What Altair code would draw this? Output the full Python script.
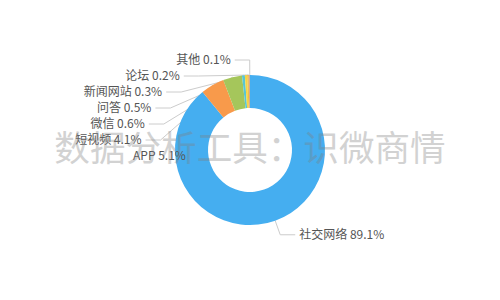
import math
import altair as alt
import pandas as pd

# ---- data ----
categories = ["社交网络", "APP", "短视频", "微信", "问答", "新闻网站", "论坛", "其他"]
percents = [89.1, 5.1, 4.1, 0.6, 0.5, 0.3, 0.2, 0.1]
colors = ["#45aef0", "#f89a4b", "#a5c65b", "#58c6d4", "#f6d444", "#f2c038", "#e88a50", "#9a9aa8"]
watermark = "数据分析工具：识微商情"

# ---- layout parameters ----
W, H = 500, 300
CX, CY = W / 2, H / 2
R_OUT, R_IN = 75, 42
LEN1, LEN2, GAP, LINE_H = 15, 15, 4, 16
FONT = "Noto Sans CJK SC"

total = sum(percents)
items = []
cum = 0.0
for i, (c, p) in enumerate(zip(categories, percents)):
    mid = (cum + p / 2) / total * 2 * math.pi
    cum += p
    sx, sy = math.sin(mid), -math.cos(mid)
    x1, y1 = CX + R_OUT * sx, CY + R_OUT * sy
    x2, y2 = CX + (R_OUT + LEN1) * sx, CY + (R_OUT + LEN1) * sy
    d = -1 if sx < 0 else 1
    items.append(dict(idx=i, cat=c, value=p, label=f"{c} {p}%", x1=x1, y1=y1,
                      x2=x2, y=y2, x3=x2 + d * LEN2, dir=d))

# label overlap avoidance (ECharts-like)
rA = R_OUT + LEN1
for d in (-1, 1):
    side = sorted([it for it in items if it["dir"] == d], key=lambda it: it["y"])
    if len(side) < 2:
        continue
    adjusted = False
    last = None
    for it in side:
        if last is not None and it["y"] < last + LINE_H:
            it["y"] = last + LINE_H
            adjusted = True
        last = it["y"]
    if not adjusted:
        continue
    for semi in ([it for it in side if it["y"] <= CY], [it for it in side if it["y"] > CY]):
        if not semi:
            continue
        ref = max(semi, key=lambda it: abs(it["y"] - CY))
        dy = abs(ref["y"] - CY)
        dx = ref["x2"] - CX
        rB = dy / math.sqrt(1 - dx * dx / (rA * rA)) if abs(dx) < rA else rA
        for it in semi:
            dyi = abs(it["y"] - CY)
            ddx = math.sqrt(max(0.0, 1 - dyi * dyi / (rB * rB))) * rA
            it["x2"] = CX + ddx * d
            it["x3"] = it["x2"] + d * LEN2

pie_df = pd.DataFrame({"idx": list(range(len(categories))), "cat": categories, "value": percents})

line_rows = []
for it in items:
    pts = [(it["x1"], it["y1"]), (it["x2"], it["y"]), (it["x3"], it["y"])]
    for k, (px, py) in enumerate(pts):
        line_rows.append(dict(cat=it["cat"], k=k, x=px, y=py))
line_df = pd.DataFrame(line_rows)

lab_df = pd.DataFrame([dict(label=it["label"], dir=it["dir"],
                            tx=it["x3"] + it["dir"] * GAP, ty=it["y"]) for it in items])
wm_df = pd.DataFrame({"t": [watermark]})

xs = alt.Scale(domain=[0, W], nice=False, zero=False)
ys = alt.Scale(domain=[0, H], reverse=True, nice=False, zero=False)

lines = alt.Chart(line_df).mark_line(color="#cccccc", strokeWidth=1).encode(
    x=alt.X("x:Q", scale=xs, axis=None),
    y=alt.Y("y:Q", scale=ys, axis=None),
    detail="cat:N",
    order="k:Q",
)

arcs = alt.Chart(pie_df).mark_arc(innerRadius=R_IN, outerRadius=R_OUT).encode(
    theta=alt.Theta("value:Q", stack=True),
    color=alt.Color("cat:N", scale=alt.Scale(domain=categories, range=colors), legend=None),
    order=alt.Order("idx:Q"),
)

text_left = alt.Chart(lab_df).transform_filter("datum.dir < 0").mark_text(
    align="right", baseline="middle", fontSize=12, font=FONT, color="#555555"
).encode(x=alt.X("tx:Q", scale=xs, axis=None), y=alt.Y("ty:Q", scale=ys, axis=None), text="label:N")

text_right = alt.Chart(lab_df).transform_filter("datum.dir > 0").mark_text(
    align="left", baseline="middle", fontSize=12, font=FONT, color="#555555"
).encode(x=alt.X("tx:Q", scale=xs, axis=None), y=alt.Y("ty:Q", scale=ys, axis=None), text="label:N")

wm = alt.Chart(wm_df).mark_text(
    align="center", baseline="middle", fontSize=35.6, font=FONT, color="#808080", opacity=0.35
).encode(x=alt.value(CX), y=alt.value(CY), text="t:N")

chart = alt.layer(lines, arcs, text_left, text_right, wm).properties(
    width=W, height=H, padding=0, autosize="none"
).configure_view(stroke=None)

chart.save("out.html", embed_options={"renderer": "svg", "actions": False})
